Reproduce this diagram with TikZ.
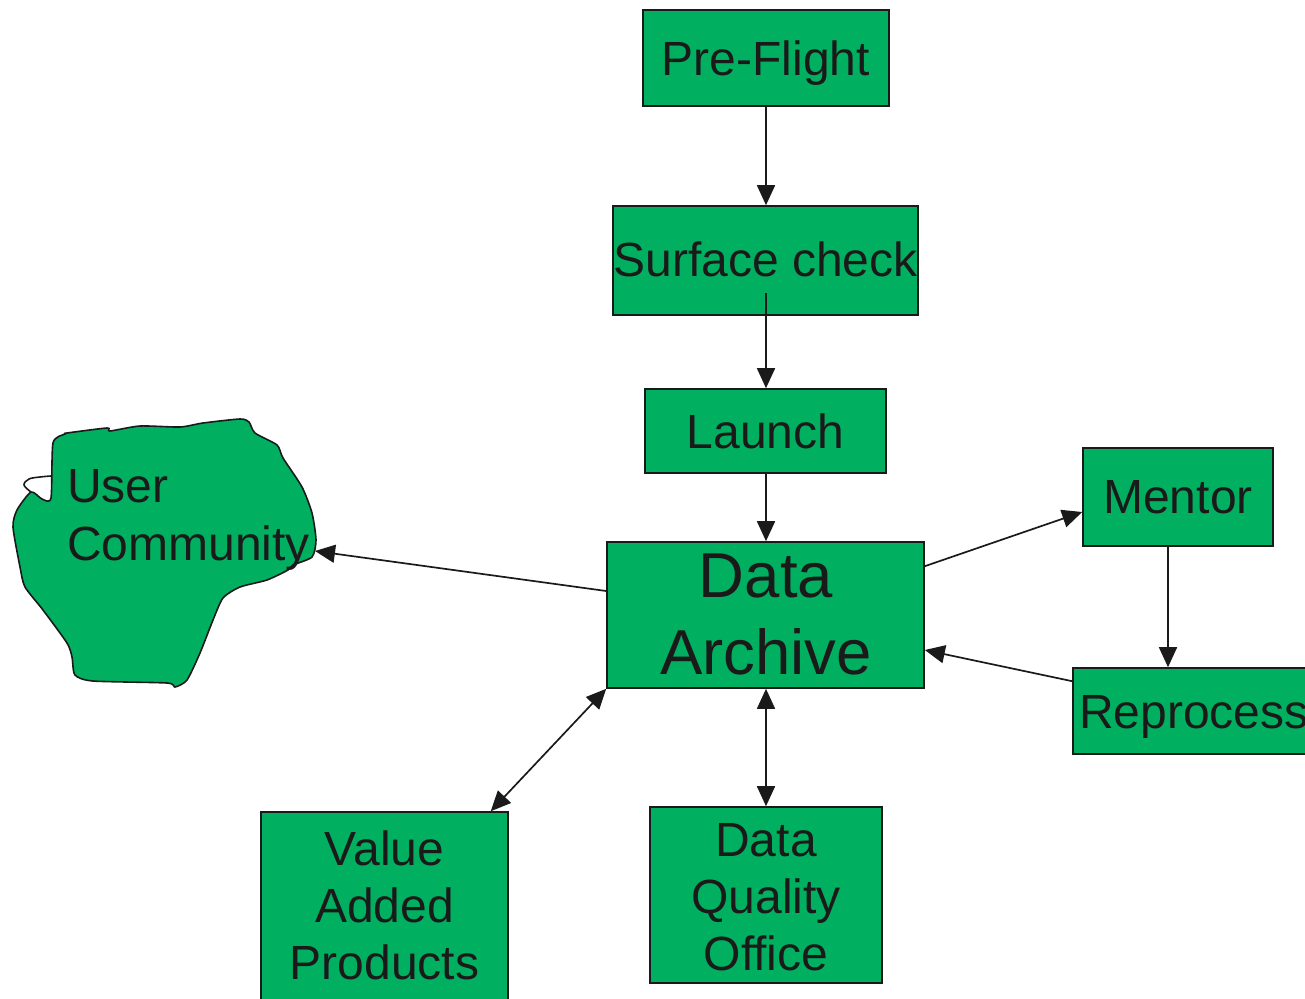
\documentclass[tikz,border=0pt]{standalone}
\usepackage{fontspec}
\setmainfont{Liberation Sans}
\usetikzlibrary{arrows.meta,calc}
\definecolor{boxgreen}{RGB}{0,176,96}
\definecolor{ink}{RGB}{26,26,26}
\begin{document}
\begin{tikzpicture}[x=1pt,y=-1pt,
 box/.style={draw=ink, line width=1.6pt, fill=boxgreen, rectangle, inner sep=0pt},
 lbl/.style={text=ink, inner sep=0pt, anchor=base, font=\fontsize{48}{57}\selectfont},
 big/.style={text=ink, inner sep=0pt, anchor=base, font=\fontsize{63.5}{77}\selectfont},
 tip/.tip={Triangle[length=20pt,width=18pt]},
 conn/.style={draw=ink, line width=1.7pt, -tip},
 dconn/.style={draw=ink, line width=1.7pt, tip-tip},
 blob/.style={draw=ink, line width=1.6pt, fill=boxgreen}
]
\useasboundingbox (0,0) rectangle (1305,998);

% boxes
\node[box, minimum width=246pt, minimum height=96pt] (pf) at (766,58) {};
\node[box, minimum width=305pt, minimum height=109pt] (sc) at (765.5,260.5) {};
\node[box, minimum width=241pt, minimum height=84pt] (lau) at (765.5,431) {};
\node[box, minimum width=317pt, minimum height=146pt] (arch) at (765.5,615) {};
\node[box, minimum width=190pt, minimum height=98pt] (men) at (1178,497) {};
\node[box, minimum width=247pt, minimum height=86pt] (rep) at (1196.5,711) {};
\node[box, minimum width=247pt, minimum height=208pt] (vap) at (384.5,916) {};
\node[box, minimum width=232pt, minimum height=176pt] (dqo) at (766,895) {};

% user community blob
\draw[blob] plot[smooth cycle, tension=0.4] coordinates {
 (53,443) (65,434) (67,433) (107,428) (110,431) (140,426) (180,427) (203,423)
 (240,419) (249,422) (255,433) (277,445) (283,458) (302,487) (312,513) (316,540)
 (312,557) (293,565) (288,570) (267,580) (240,587) (223,598) (213,620) (200,653)
 (187,680) (175,687) (167,683) (93,681) (75,675) (72,657) (67,643) (43,610)
 (25,587) (20,567) (13,527) (17,510) (31,492) (42,499) (51,498)};
\draw[draw=ink, line width=1.6pt] plot[smooth, tension=0.6] coordinates {(31,492) (24,485) (29,479) (40,477) (51,476)};
\coordinate (uc) at (315,551);

% labels
\node[lbl] (tpf) at (766,75) {Pre-Flight};
\node[lbl] (tsc) at (765.5,276) {Surface check};
\node[lbl] (tlau) at (765.5,448) {Launch};
\node[lbl] (tmen) at (1178,513) {Mentor};
\node[lbl, anchor=base west] (trep) at (1079,728) {Reprocess};
\node[big] (tda1) at (766,597) {Data};
\node[big] (tda2) at (766,674) {Archive};
\node[lbl] (tv1) at (384.5,865) {Value};
\node[lbl] (tv2) at (384.5,922) {Added};
\node[lbl] (tv3) at (384.5,979) {Products};
\node[lbl] (tq1) at (766,856) {Data};
\node[lbl] (tq2) at (766,913) {Quality};
\node[lbl] (tq3) at (766,970) {Office};
\node[lbl, anchor=base west] (tu1) at (67,502) {User};
\node[lbl, anchor=base west] (tu2) at (67,560) {Community};

% connectors
\coordinate (scout) at (766,293);
\draw[conn] (pf.south) -- (sc.north -| pf.south);
\draw[conn] (scout) -- (lau.north -| scout);
\draw[conn] (lau.south -| scout) -- (arch.north -| scout);
\draw[conn] ([yshift=-25pt]arch.north east) -- ([yshift=-15pt]men.west);
\draw[conn] ([xshift=-10pt]men.south) -- ([xshift=-28.5pt]rep.north);
\draw[conn] ([yshift=-14pt]rep.north west) -- ([yshift=-35pt]arch.east);
\draw[conn] ([yshift=24pt]arch.west) -- (uc);
\draw[dconn] (arch.south west) -- ([xshift=-18pt]vap.north east);
\draw[dconn] (arch.south -| scout) -- (dqo.north -| scout);
\end{tikzpicture}
\end{document}
